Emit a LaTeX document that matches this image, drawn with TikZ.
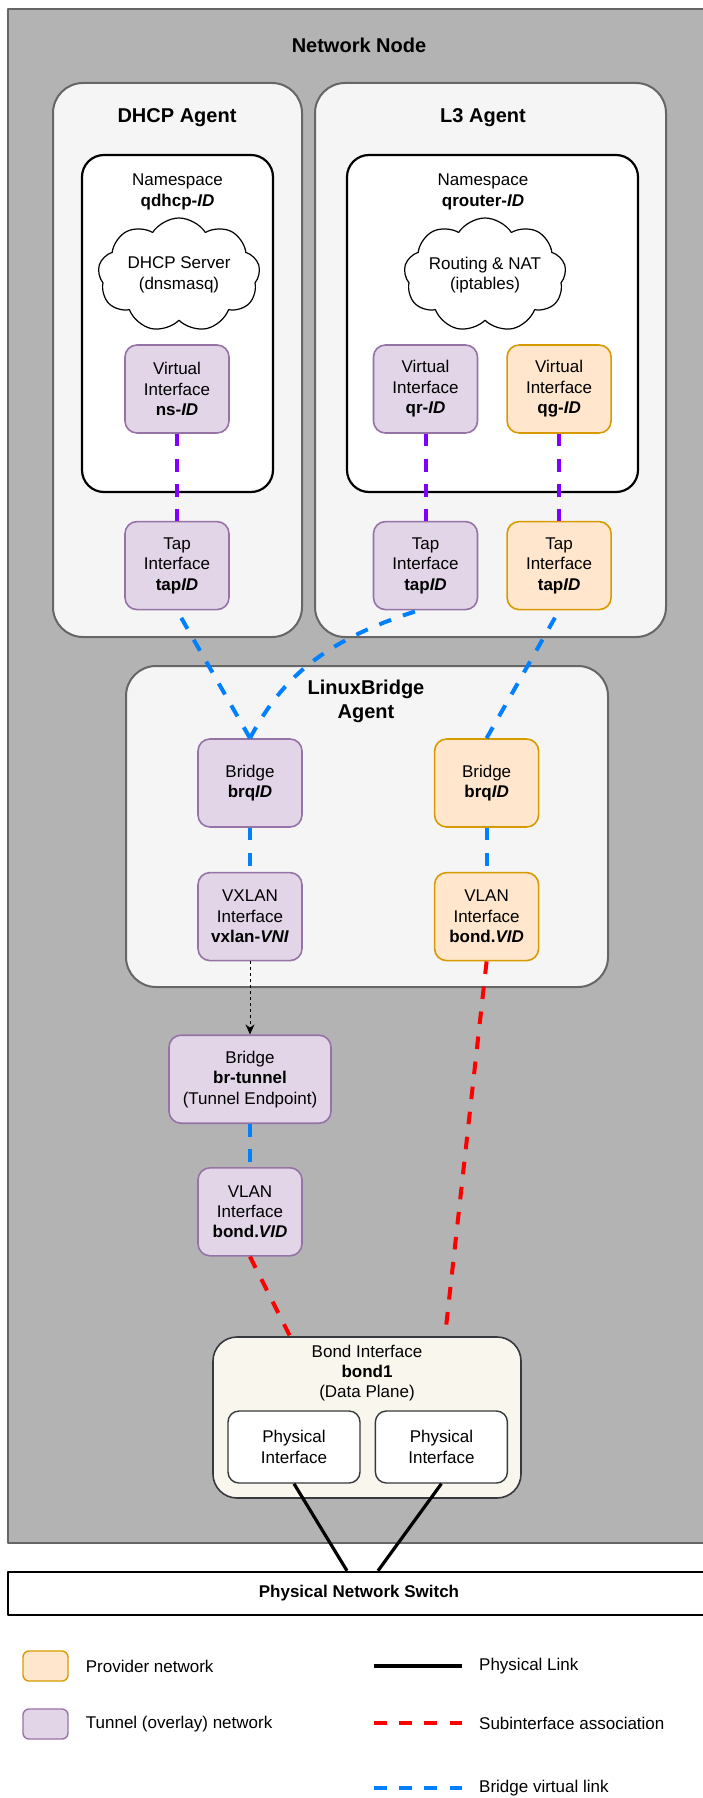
\documentclass[tikz,border=0pt]{standalone}
\usepackage{fontspec}
\setmainfont{Liberation Sans}
\usetikzlibrary{shapes.symbols,arrows.meta,positioning}

\definecolor{hostgray}{HTML}{B3B3B3}
\definecolor{agentfill}{HTML}{F5F5F5}
\definecolor{agentdraw}{HTML}{666666}
\definecolor{tunfill}{HTML}{E1D5E7}
\definecolor{tundraw}{HTML}{9673A6}
\definecolor{provfill}{HTML}{FFE6CC}
\definecolor{provdraw}{HTML}{D79B00}
\definecolor{bondfill}{HTML}{F9F7ED}
\definecolor{bonddraw}{HTML}{36393D}
\definecolor{vethcol}{HTML}{7F00FF}
\definecolor{brcol}{HTML}{007FFF}
\definecolor{subcol}{HTML}{FF0000}

\begin{document}
\begin{tikzpicture}[x=1pt, y=-1pt, >=Stealth, line join=round]
    % Styles
    \tikzstyle{txt} = [font=\fontsize{17}{20.4}\selectfont, align=center, inner sep=0pt]
    \tikzstyle{title} = [font=\fontsize{20}{23.5}\selectfont\bfseries, align=center, inner sep=0pt]
    \tikzstyle{host} = [rectangle, draw=agentdraw, fill=hostgray, line width=1.6pt, inner sep=0pt]
    \tikzstyle{agent} = [rectangle, rounded corners=30pt, draw=agentdraw, fill=agentfill, line width=2pt, inner sep=0pt]
    \tikzstyle{netns} = [rectangle, rounded corners=22pt, draw=black, fill=white, line width=2.2pt, inner sep=0pt]
    \tikzstyle{iface} = [rectangle, rounded corners=12pt, line width=1.6pt, minimum width=104pt, minimum height=88pt, txt]
    \tikzstyle{tunnel} = [iface, draw=tundraw, fill=tunfill]
    \tikzstyle{provider} = [iface, draw=provdraw, fill=provfill]
    \tikzstyle{service} = [cloud, cloud puffs=9, cloud puff arc=115, cloud ignores aspect, draw=black, fill=white, line width=1.2pt, minimum width=162pt, minimum height=114pt, txt]
    \tikzstyle{phys} = [rectangle, rounded corners=11pt, draw=bonddraw, fill=white, line width=1.4pt, minimum width=132pt, minimum height=72pt, txt]
    \tikzstyle{legbox} = [rectangle, rounded corners=6pt, line width=1.4pt, minimum width=45pt, minimum height=30pt, inner sep=0pt]
    \tikzstyle{legtext} = [txt, anchor=west]
    \tikzstyle{veth} = [draw=vethcol, line width=4pt, dash pattern=on 12.6pt off 12.6pt]
    \tikzstyle{brlink} = [draw=brcol, line width=4pt, dash pattern=on 12.6pt off 12.6pt]
    \tikzstyle{subif} = [draw=subcol, line width=4pt, dash pattern=on 12.6pt off 12.6pt]
    \tikzstyle{wire} = [draw=black, line width=3.2pt]
    \tikzstyle{tunarrow} = [draw=black, line width=1pt, dash pattern=on 3pt off 3pt, -{Stealth[length=10pt, width=9pt]}]

    \useasboundingbox (0,0) rectangle (702,1798);

    % Containers
    \node [host, minimum width=702pt, minimum height=1534pt] (netnode) at (359,776) {};
    \node [title] (nettitle) at (359,45) {Network Node};
    \node [agent, minimum width=249pt, minimum height=554pt] (dhcpagent) at (177.5,360) {};
    \node [title] (dhcptitle) at (177,118) {DHCP Agent};
    \node [agent, minimum width=351pt, minimum height=554pt] (l3agent) at (490.5,360) {};
    \node [title] (l3title) at (483,118) {L3 Agent};
    \node [netns, minimum width=191pt, minimum height=337pt] (dhcpns) at (177.5,323.5) {};
    \node [txt] (dhcpnslbl) at (177.5,192) {Namespace\\\textbf{qdhcp-\textit{ID}}};
    \node [netns, minimum width=291pt, minimum height=337pt] (l3ns) at (492.5,323.5) {};
    \node [txt] (l3nslbl) at (483,192) {Namespace\\\textbf{qrouter-\textit{ID}}};
    \node [agent, minimum width=482pt, minimum height=321pt] (lbagent) at (367,826.5) {};
    \node [title] (lbtitle) at (366,701.5) {LinuxBridge\\Agent};

    % Nodes
    \node [service] (dhcpsrv) at (179,275) {DHCP Server\\(dnsmasq)};
    \node [service] (natsrv) at (485,275) {Routing \& NAT\\(iptables)};
    \node [tunnel] (nsif) at (177,389) {Virtual\\Interface\\\textbf{ns-\textit{ID}}};
    \node [tunnel, below=87pt of nsif] (tapd) {Tap\\Interface\\\textbf{tap\textit{ID}}};
    \node [tunnel] (qrif) at (425.5,389) {Virtual\\Interface\\\textbf{qr-\textit{ID}}};
    \node [provider, right=28pt of qrif] (qgif) {Virtual\\Interface\\\textbf{qg-\textit{ID}}};
    \node [tunnel, below=87pt of qrif] (tapr) {Tap\\Interface\\\textbf{tap\textit{ID}}};
    \node [provider, below=87pt of qgif] (tapg) {Tap\\Interface\\\textbf{tap\textit{ID}}};
    \node [tunnel] (brqt) at (250,783) {Bridge\\\textbf{brq\textit{ID}}};
    \node [tunnel, below=44pt of brqt] (vxlan) {VXLAN\\Interface\\\textbf{vxlan-\textit{VNI}}};
    \node [provider, right=131pt of brqt] (brqp) {Bridge\\\textbf{brq\textit{ID}}};
    \node [provider, below=44pt of brqp] (vlanp) {VLAN\\Interface\\\textbf{bond.\textit{VID}}};
    \node [tunnel, minimum width=162pt, below=73pt of vxlan] (brtun) {Bridge\\\textbf{br-tunnel}\\(Tunnel Endpoint)};
    \node [tunnel, below=43pt of brtun] (vlant) {VLAN\\Interface\\\textbf{bond.\textit{VID}}};
    \node [rectangle, rounded corners=24pt, draw=bonddraw, fill=bondfill, line width=1.6pt, minimum width=308pt, minimum height=161pt] (bond) at (367,1417.5) {};
    \node [txt] (bondlbl) at (367,1373) {Bond Interface\\\textbf{bond1}\\(Data Plane)};
    \node [phys] (phys1) at (294,1447) {Physical\\Interface};
    \node [phys, right=14pt of phys1] (phys2) {Physical\\Interface};
    \node [rectangle, draw=black, fill=white, line width=2.4pt, minimum width=702pt, minimum height=43pt, txt, font=\fontsize{17}{20.4}\selectfont\bfseries] (switch) at (359,1593.5) {Physical Network Switch};

    % Namespace links
    \draw [veth] (nsif) -- (tapd);
    \draw [veth] (qrif) -- (tapr);
    \draw [veth] (qgif) -- (tapg);

    % Bridge links
    \draw [brlink] (brqt.north) -- (tapd.south);
    \draw [brlink] (brqt.north) .. controls (278,686) and (314.5,643) .. ([xshift=-7pt]tapr.south);
    \draw [brlink] (brqp.north) -- (tapg.south);
    \draw [brlink] (brqt) -- (vxlan);
    \draw [brlink] (brqp) -- (vlanp);
    \draw [brlink] (brtun) -- (vlant);
    \draw [tunarrow] (vxlan) -- (brtun);

    % Subinterfaces and wires
    \draw [subif] (vlant.south) -- ([xshift=-77pt]bond.north);
    \draw [subif] (vlanp.south) -- ([xshift=78pt]bond.north);
    \draw [wire] (phys1.south) -- ([xshift=-12pt]switch.north);
    \draw [wire] (phys2.south) -- ([xshift=19pt]switch.north);

    % Legend
    \node [legbox, draw=provdraw, fill=provfill] (legprov) at (45.5,1666) {};
    \node [legtext, right=17pt of legprov] (legprovtxt) {Provider network};
    \node [legbox, draw=tundraw, fill=tunfill] (legtun) at (45.5,1724) {};
    \node [legtext, right=17pt of legtun] (legtuntxt) {Tunnel (overlay) network};
    \coordinate (wireA) at (374,1666);
    \coordinate (wireB) at (462,1666);
    \coordinate (subA) at (374,1723);
    \coordinate (subB) at (462,1723);
    \coordinate (brA) at (374,1788);
    \coordinate (brB) at (462,1788);
    \draw [wire, line width=4pt] (wireA) -- (wireB);
    \draw [subif] (subA) -- (subB);
    \draw [brlink] (brA) -- (brB);
    \node [legtext] (wiretxt) at (479,1666) {Physical Link};
    \node [legtext] (subtxt) at (479,1723) {Subinterface association};
    \node [legtext] (brtxt) at (479,1788) {Bridge virtual link};
\end{tikzpicture}
\end{document}
